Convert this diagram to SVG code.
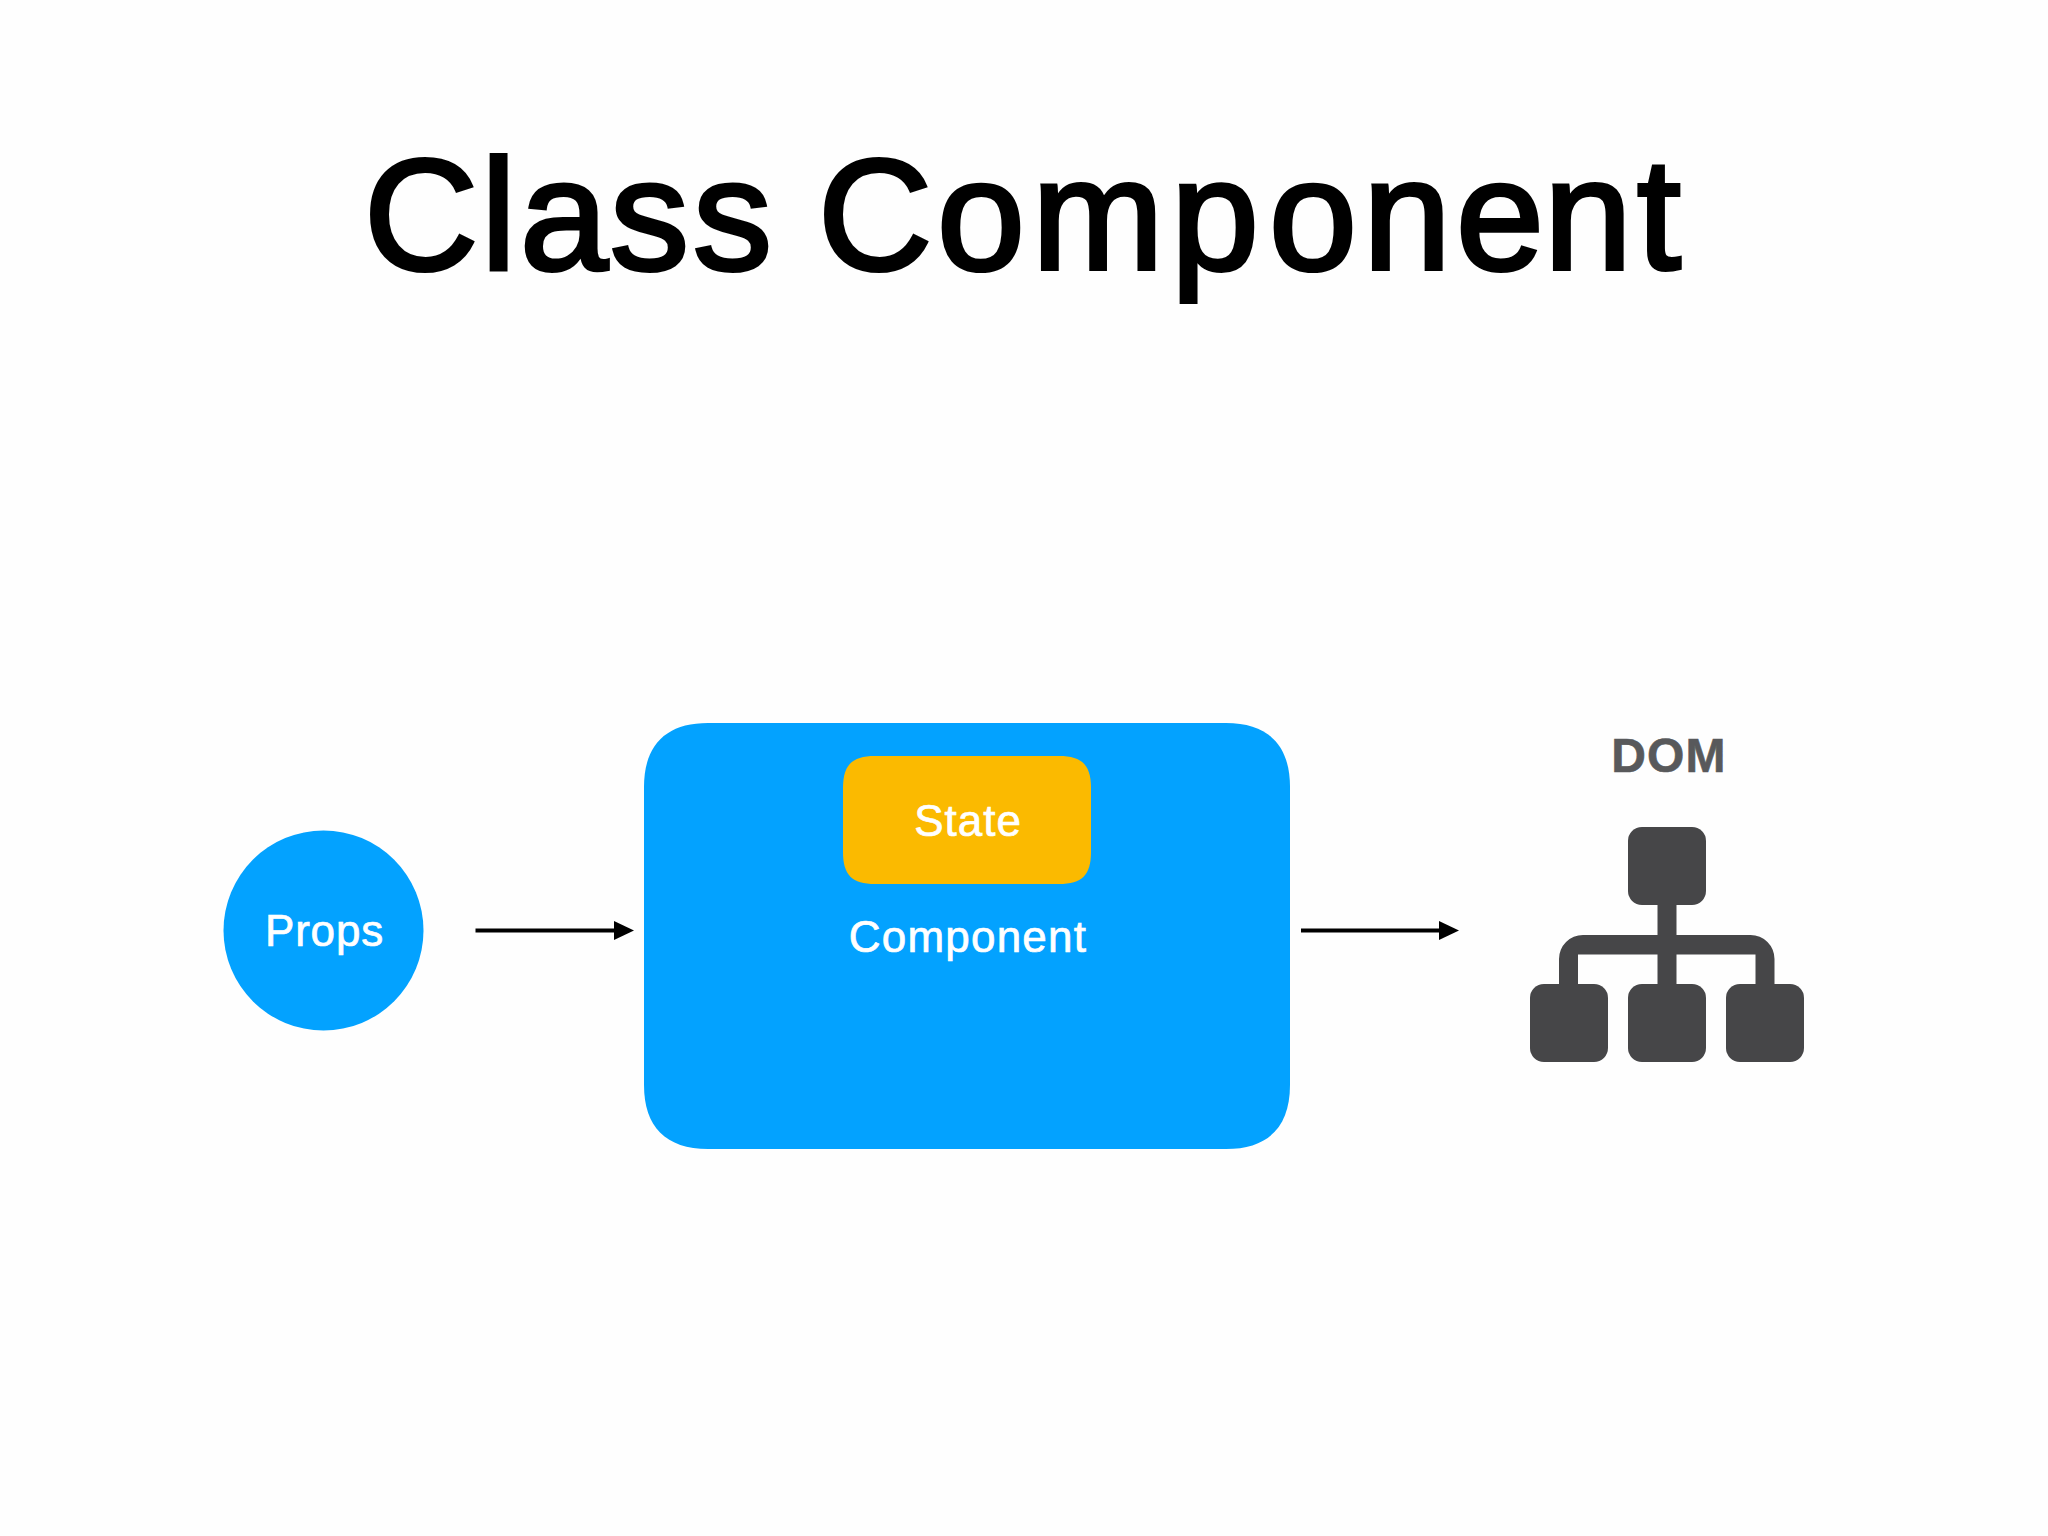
<svg xmlns="http://www.w3.org/2000/svg" width="2048" height="1536" viewBox="0 0 2048 1536">
  <style>
    .sans { font-family: "Liberation Sans", Arial, Helvetica, sans-serif; }
    .title { font-size: 158px; fill: #000; stroke: #000; stroke-width: 4px; }
    .lbl { font-size: 44px; fill: #fff; stroke: #fff; stroke-width: 0.7px; text-anchor: middle; }
    .blue { fill: #03a2ff; }
    .dark { fill: #464648; }
    .wire { stroke: #000; stroke-width: 4; fill: none; marker-end: url(#head); }
  </style>
  <defs>
    <marker id="head" markerUnits="userSpaceOnUse" markerWidth="20" markerHeight="20" refX="0" refY="10" orient="auto">
      <path d="M0 0.5L20 10L0 19.5Z" fill="#000"/>
    </marker>
  </defs>
  <rect width="2048" height="1536" fill="#fefefe"/>
  <text id="title" class="sans title" y="269" x="364 481 520 610 693 780 818 937 1032 1171 1269 1363 1456 1544 1637">Class Component</text>
  <g id="connectors">
    <line class="wire" x1="475.500" y1="930.500" x2="614" y2="930.500"/>
    <line class="wire" x1="1301" y1="930.500" x2="1439" y2="930.500"/>
  </g>
  <g id="props">
    <circle class="blue" cx="323.500" cy="930.500" r="100"/>
    <text class="sans lbl" x="324.500" y="945.500" letter-spacing="0.8">Props</text>
  </g>
  <g id="component">
    <path class="blue" d="M708 723H1226C1268 723 1290 745 1290 787V1085C1290 1127 1268 1149 1226 1149H708C666 1149 644 1127 644 1085V787C644 745 666 723 708 723Z"/>
    <text class="sans lbl" x="968" y="951.500" letter-spacing="1.2">Component</text>
  </g>
  <g id="state">
    <path fill="#fbba00" d="M875 756H1059C1082 756 1091 765 1091 788V852C1091 875 1082 884 1059 884H875C852 884 843 875 843 852V788C843 765 852 756 875 756Z"/>
    <text class="sans lbl" x="968" y="836" letter-spacing="1">State</text>
  </g>
  <g id="dom">
    <text class="sans" x="1669" y="771.500" font-size="48" font-weight="700" fill="#58595b" stroke="#58595b" stroke-width="0.6" letter-spacing="1.2" text-anchor="middle">DOM</text>
    <path class="dark" d="M1657.500 900H1676.500V935H1750.500A24 24 0 0 1 1774.500 959V990H1755.500V954.500H1676.500V990H1657.500V954.500H1578V990H1559V959A24 24 0 0 1 1583 935H1657.500Z"/>
    <rect class="dark" x="1628" y="827" width="78" height="78" rx="14"/>
    <rect class="dark" x="1530" y="984" width="78" height="78" rx="14"/>
    <rect class="dark" x="1628" y="984" width="78" height="78" rx="14"/>
    <rect class="dark" x="1726" y="984" width="78" height="78" rx="14"/>
  </g>
</svg>
